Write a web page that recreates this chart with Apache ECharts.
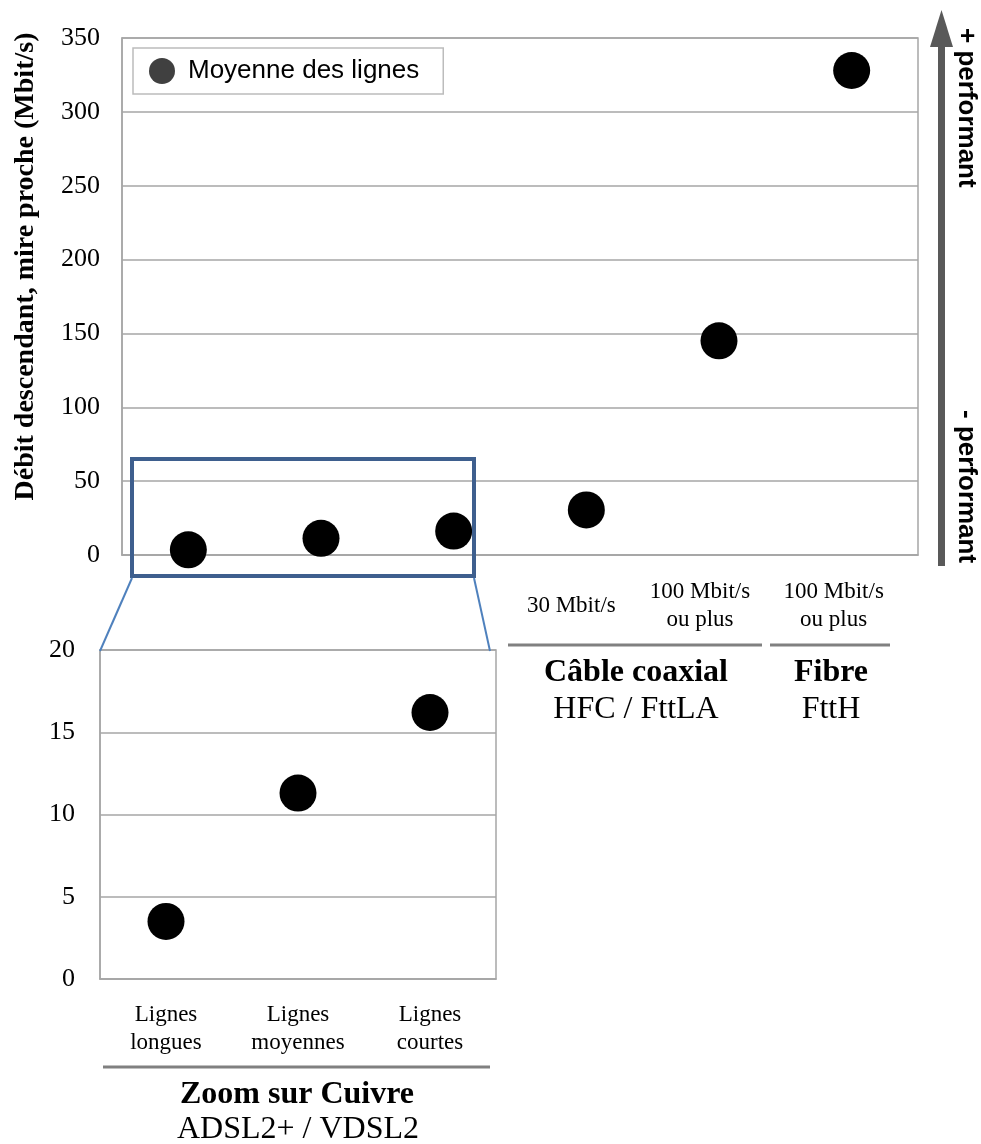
<!DOCTYPE html>
<html>
<head>
<meta charset="utf-8">
<script src="https://cdn.jsdelivr.net/npm/echarts@6/dist/echarts.min.js"></script>
<style>
html,body{margin:0;padding:0;background:#fff;}
#chart{width:981px;height:1144px;}
</style>
</head>
<body>
<div id="chart"></div>
<script>
// ---- data ----
var mainCategories = ['Lignes longues', 'Lignes moyennes', 'Lignes courtes', '30 Mbit/s', '100 Mbit/s\nou plus', '100 Mbit/s\nou plus'];
var mainLabels = ['', '', '', '30 Mbit/s', '100 Mbit/s\nou plus', '100 Mbit/s\nou plus'];
var mainValues = [3.5, 11.3, 16.2, 30.5, 145, 328];
var zoomCategories = ['Lignes\nlongues', 'Lignes\nmoyennes', 'Lignes\ncourtes'];
var zoomValues = [3.5, 11.3, 16.2];
var seriesName = 'Moyenne des lignes';
var yTitle = 'Débit descendant, mire proche (Mbit/s)';
var groupTitles = ['Câble coaxial', 'Fibre', 'Zoom sur Cuivre'];
var groupSubtitles = ['HFC / FttLA', 'FttH', 'ADSL2+ / VDSL2'];

var SERIF = '"Liberation Serif", "Times New Roman", serif';
var SANS = '"Liberation Sans", Arial, sans-serif';
var gridColor = '#a6a6a6';

var chart = echarts.init(document.getElementById('chart'), null, {renderer: 'canvas'});

// label shift styles (labels sit slightly left of their category centre)
var labelShift = ['s0', 's0', 's0', 's30', 's100a', 's100b'];
function richLabel(text, key) {
  if (!text) return '';
  return text.split('\n').map(function (l) { return '{' + key + '|' + l + '}'; }).join('\n');
}
var catFont = {fontFamily: SERIF, fontSize: 23, color: '#000', lineHeight: 28};

var option = {
  backgroundColor: '#ffffff',
  animation: false,
  legend: {
    show: true,
    data: [{name: seriesName, icon: 'circle', itemStyle: {color: '#404040', opacity: 1}}],
    left: 133, top: 48,
    padding: [10, 24, 10, 16],
    itemWidth: 26, itemHeight: 26, itemGap: 10,
    borderColor: '#bcbcbc', borderWidth: 1.5,
    textStyle: {fontFamily: SANS, fontSize: 26, color: '#000', padding: [0, 0, 0, 8]},
    selectedMode: false
  },
  grid: [
    {left: 122, top: 38, width: 796, height: 517, show: true, borderColor: gridColor, borderWidth: 1.5, containLabel: false, outerBoundsMode: 'none'},
    {left: 100, top: 650, width: 396, height: 329, show: true, borderColor: gridColor, borderWidth: 1.5, containLabel: false, outerBoundsMode: 'none'}
  ],
  xAxis: [
    {
      type: 'category', gridIndex: 0, data: mainCategories, boundaryGap: true,
      axisLine: {show: true, lineStyle: {color: gridColor, width: 1.5}},
      axisTick: {show: false},
      axisLabel: {
        interval: 0, margin: 51, verticalAlign: 'middle', lineHeight: 28,
        fontFamily: SERIF, fontSize: 23, color: '#000',
        formatter: function (v, i) { return richLabel(mainLabels[i], labelShift[i]); },
        rich: {
          s0: catFont,
          s30: Object.assign({padding: [0, 30, 0, 0]}, catFont),
          s100a: Object.assign({padding: [0, 38, 0, 0]}, catFont),
          s100b: Object.assign({padding: [0, 36, 0, 0]}, catFont)
        }
      }
    },
    {
      type: 'category', gridIndex: 1, data: zoomCategories, boundaryGap: true,
      axisLine: {show: true, lineStyle: {color: gridColor, width: 1.5}},
      axisTick: {show: false},
      axisLabel: {interval: 0, margin: 50, verticalAlign: 'middle', lineHeight: 28,
        fontFamily: SERIF, fontSize: 23, color: '#000'}
    }
  ],
  yAxis: [
    {
      type: 'value', gridIndex: 0, min: 0, max: 350, interval: 50,
      name: yTitle, nameLocation: 'middle', nameGap: 82, nameRotate: 90,
      nameTextStyle: {fontFamily: SERIF, fontWeight: 'bold', fontSize: 28, color: '#000', padding: [0, 0, 0, 60]},
      axisLine: {show: true, lineStyle: {color: gridColor, width: 1.5}},
      axisTick: {show: false},
      splitLine: {show: true, lineStyle: {color: gridColor, width: 1.5}},
      axisLabel: {margin: 22, fontFamily: SERIF, fontSize: 26, color: '#000'}
    },
    {
      type: 'value', gridIndex: 1, min: 0, max: 20, interval: 5,
      axisLine: {show: true, lineStyle: {color: gridColor, width: 1.5}},
      axisTick: {show: false},
      splitLine: {show: true, lineStyle: {color: gridColor, width: 1.5}},
      axisLabel: {margin: 25, fontFamily: SERIF, fontSize: 26, color: '#000'}
    }
  ],
  series: [
    {
      name: seriesName, type: 'scatter', xAxisIndex: 0, yAxisIndex: 0,
      data: mainValues, symbol: 'circle', symbolSize: 37,
      itemStyle: {color: '#000000', opacity: 1}, z: 3
    },
    {
      name: 'zoom', type: 'scatter', xAxisIndex: 1, yAxisIndex: 1,
      data: zoomValues, symbol: 'circle', symbolSize: 37,
      itemStyle: {color: '#000000', opacity: 1}, z: 3
    }
  ],
  graphic: [
    // zoom rectangle
    {type: 'rect', shape: {x: 132, y: 459, width: 342, height: 117}, style: {fill: 'none', stroke: '#3e5f8e', lineWidth: 4}, z: 10},
    {type: 'line', shape: {x1: 132, y1: 578, x2: 100, y2: 651}, style: {stroke: '#4f81bd', lineWidth: 2}, z: 10},
    {type: 'line', shape: {x1: 474, y1: 578, x2: 490, y2: 651}, style: {stroke: '#4f81bd', lineWidth: 2}, z: 10},
    // group separator lines
    {type: 'line', shape: {x1: 508, y1: 645, x2: 762, y2: 645}, style: {stroke: '#808080', lineWidth: 3}},
    {type: 'line', shape: {x1: 770, y1: 645, x2: 890, y2: 645}, style: {stroke: '#808080', lineWidth: 3}},
    {type: 'line', shape: {x1: 103, y1: 1067, x2: 490, y2: 1067}, style: {stroke: '#808080', lineWidth: 3}},
    // group titles
    {type: 'text', x: 636, y: 673, style: {text: groupTitles[0], font: 'bold 32px ' + SERIF, fill: '#000', align: 'center', verticalAlign: 'middle'}},
    {type: 'text', x: 636, y: 710, style: {text: groupSubtitles[0], font: '32px ' + SERIF, fill: '#000', align: 'center', verticalAlign: 'middle'}},
    {type: 'text', x: 831, y: 673, style: {text: groupTitles[1], font: 'bold 32px ' + SERIF, fill: '#000', align: 'center', verticalAlign: 'middle'}},
    {type: 'text', x: 831, y: 710, style: {text: groupSubtitles[1], font: '32px ' + SERIF, fill: '#000', align: 'center', verticalAlign: 'middle'}},
    {type: 'text', x: 297, y: 1095, style: {text: groupTitles[2], font: 'bold 32px ' + SERIF, fill: '#000', align: 'center', verticalAlign: 'middle'}},
    {type: 'text', x: 298, y: 1130, style: {text: groupSubtitles[2], font: '32px ' + SERIF, fill: '#000', align: 'center', verticalAlign: 'middle'}},
    // performance arrow
    {type: 'rect', shape: {x: 938, y: 44, width: 7, height: 522}, style: {fill: '#595959'}},
    {type: 'polygon', shape: {points: [[930, 47], [953, 47], [941.5, 10]]}, style: {fill: '#595959'}},
    {type: 'text', x: 966, y: 28, rotation: -Math.PI / 2, style: {text: '+ performant', font: 'bold 26px ' + SANS, fill: '#000', align: 'left', verticalAlign: 'middle'}},
    {type: 'text', x: 966, y: 410, rotation: -Math.PI / 2, style: {text: '- performant', font: 'bold 26px ' + SANS, fill: '#000', align: 'left', verticalAlign: 'middle'}}
  ]
};
chart.setOption(option);
</script>
</body>
</html>
